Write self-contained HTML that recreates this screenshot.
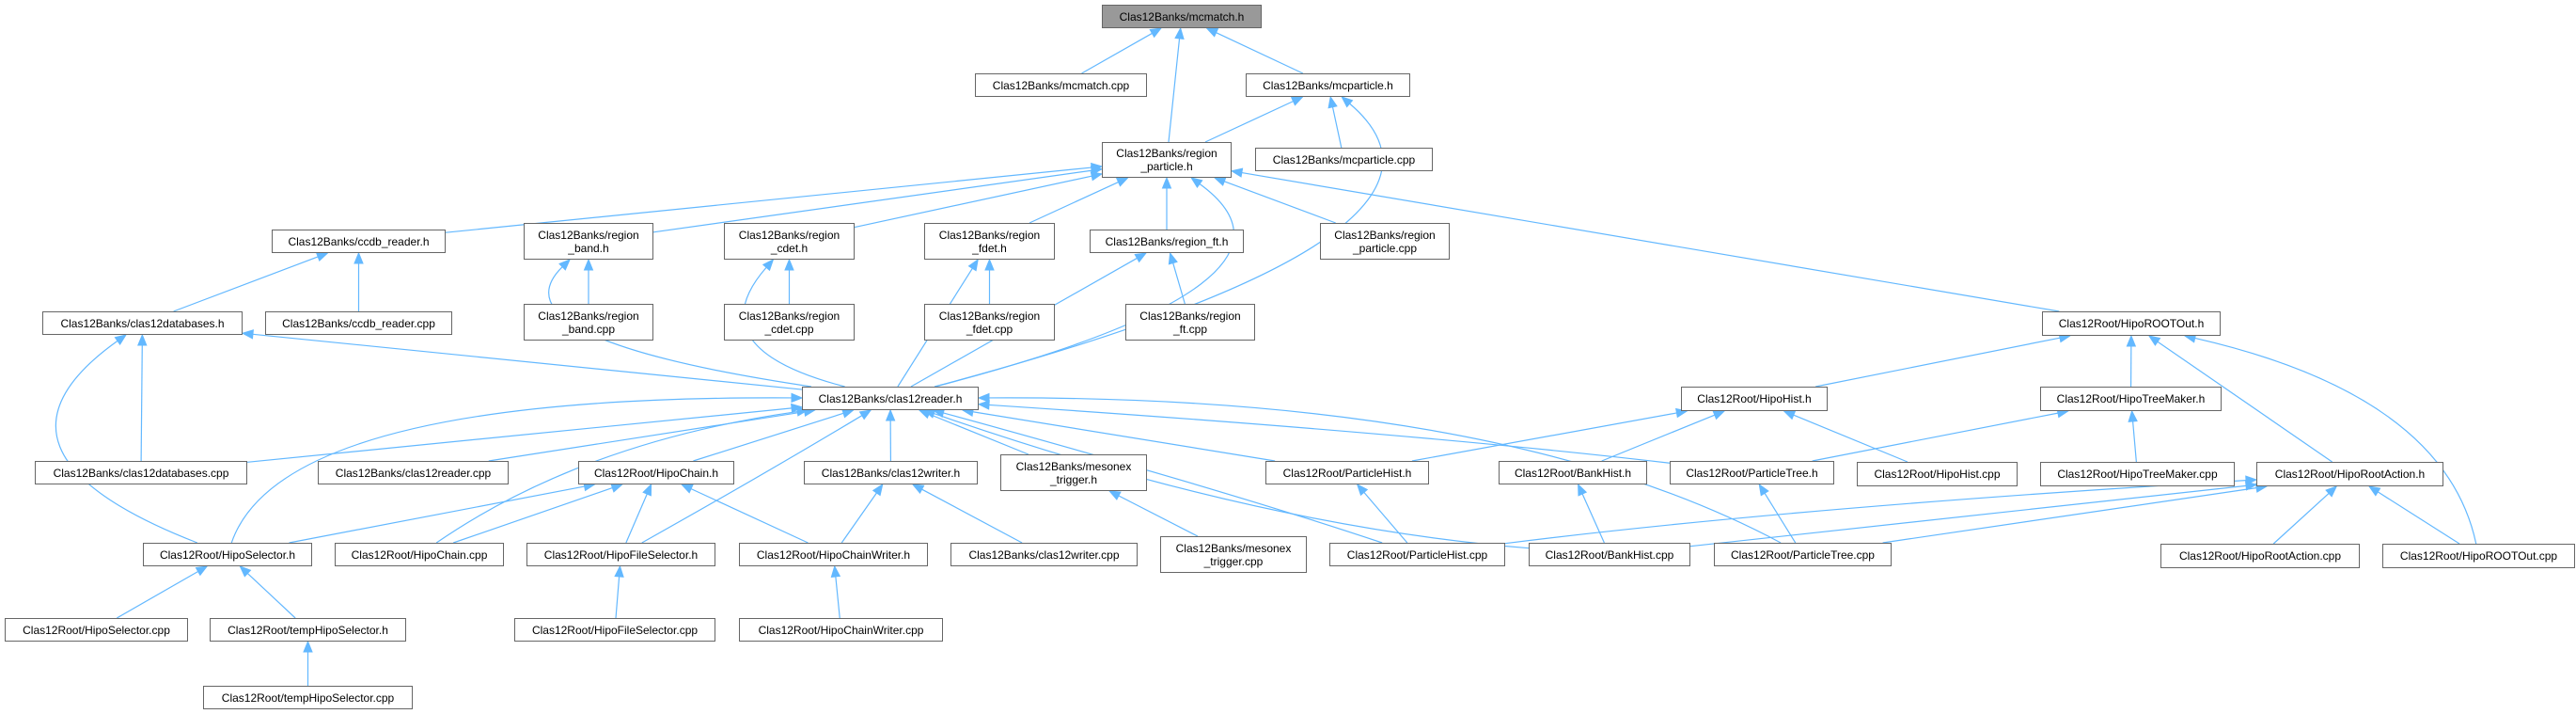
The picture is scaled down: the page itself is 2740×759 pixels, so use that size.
<!DOCTYPE html>
<html><head><meta charset="utf-8">
<style>
html,body{margin:0;padding:0;background:#fff;}
#c{position:relative;width:2740px;height:759px;overflow:hidden;}
.n{position:absolute;box-sizing:border-box;border:1.5px solid #666;background:#fff;font-family:"Liberation Sans",Arial,sans-serif;font-size:12px;color:#000;display:flex;align-items:center;justify-content:center;text-align:center;line-height:14px;white-space:nowrap;}
svg{position:absolute;left:0;top:0;}
</style></head><body><div id="c">
<svg id="s" width="2740" height="759"></svg>
<div class="n" id="mcmatch_h" style="left:1172px;top:5px;width:170px;height:25px;background:#999">Clas12Banks/mcmatch.h</div>
<div class="n" id="mcmatch_cpp" style="left:1037px;top:78px;width:183px;height:25px">Clas12Banks/mcmatch.cpp</div>
<div class="n" id="mcparticle_h" style="left:1325px;top:78px;width:175px;height:25px">Clas12Banks/mcparticle.h</div>
<div class="n" id="rp_h" style="left:1172px;top:151px;width:138px;height:38px">Clas12Banks/region<br>_particle.h</div>
<div class="n" id="mcparticle_cpp" style="left:1335px;top:157px;width:189px;height:25px">Clas12Banks/mcparticle.cpp</div>
<div class="n" id="ccdb_h" style="left:289px;top:244px;width:185px;height:25px">Clas12Banks/ccdb_reader.h</div>
<div class="n" id="band_h" style="left:557px;top:237px;width:138px;height:39px">Clas12Banks/region<br>_band.h</div>
<div class="n" id="cdet_h" style="left:770px;top:237px;width:139px;height:39px">Clas12Banks/region<br>_cdet.h</div>
<div class="n" id="fdet_h" style="left:983px;top:237px;width:139px;height:39px">Clas12Banks/region<br>_fdet.h</div>
<div class="n" id="ft_h" style="left:1159px;top:244px;width:164px;height:25px">Clas12Banks/region_ft.h</div>
<div class="n" id="rp_cpp" style="left:1404px;top:237px;width:138px;height:39px">Clas12Banks/region<br>_particle.cpp</div>
<div class="n" id="db_h" style="left:45px;top:331px;width:213px;height:25px">Clas12Banks/clas12databases.h</div>
<div class="n" id="ccdb_cpp" style="left:282px;top:331px;width:199px;height:25px">Clas12Banks/ccdb_reader.cpp</div>
<div class="n" id="band_cpp" style="left:557px;top:323px;width:138px;height:39px">Clas12Banks/region<br>_band.cpp</div>
<div class="n" id="cdet_cpp" style="left:770px;top:323px;width:139px;height:39px">Clas12Banks/region<br>_cdet.cpp</div>
<div class="n" id="fdet_cpp" style="left:983px;top:323px;width:139px;height:39px">Clas12Banks/region<br>_fdet.cpp</div>
<div class="n" id="ft_cpp" style="left:1197px;top:323px;width:138px;height:39px">Clas12Banks/region<br>_ft.cpp</div>
<div class="n" id="rootout_h" style="left:2172px;top:331px;width:190px;height:26px">Clas12Root/HipoROOTOut.h</div>
<div class="n" id="reader_h" style="left:853px;top:411px;width:188px;height:25px">Clas12Banks/clas12reader.h</div>
<div class="n" id="hist_h" style="left:1788px;top:411px;width:156px;height:26px">Clas12Root/HipoHist.h</div>
<div class="n" id="treemaker_h" style="left:2170px;top:411px;width:193px;height:26px">Clas12Root/HipoTreeMaker.h</div>
<div class="n" id="db_cpp" style="left:37px;top:490px;width:226px;height:25px">Clas12Banks/clas12databases.cpp</div>
<div class="n" id="reader_cpp" style="left:338px;top:490px;width:203px;height:25px">Clas12Banks/clas12reader.cpp</div>
<div class="n" id="chain_h" style="left:615px;top:490px;width:166px;height:25px">Clas12Root/HipoChain.h</div>
<div class="n" id="writer_h" style="left:855px;top:490px;width:185px;height:25px">Clas12Banks/clas12writer.h</div>
<div class="n" id="meson_h" style="left:1064px;top:483px;width:156px;height:39px">Clas12Banks/mesonex<br>_trigger.h</div>
<div class="n" id="phist_h" style="left:1346px;top:490px;width:174px;height:25px">Clas12Root/ParticleHist.h</div>
<div class="n" id="bhist_h" style="left:1594px;top:490px;width:158px;height:25px">Clas12Root/BankHist.h</div>
<div class="n" id="ptree_h" style="left:1776px;top:490px;width:175px;height:25px">Clas12Root/ParticleTree.h</div>
<div class="n" id="hist_cpp" style="left:1975px;top:491px;width:171px;height:26px">Clas12Root/HipoHist.cpp</div>
<div class="n" id="treemaker_cpp" style="left:2170px;top:491px;width:207px;height:26px">Clas12Root/HipoTreeMaker.cpp</div>
<div class="n" id="action_h" style="left:2400px;top:491px;width:199px;height:26px">Clas12Root/HipoRootAction.h</div>
<div class="n" id="sel_h" style="left:152px;top:577px;width:180px;height:25px">Clas12Root/HipoSelector.h</div>
<div class="n" id="chain_cpp" style="left:356px;top:577px;width:180px;height:25px">Clas12Root/HipoChain.cpp</div>
<div class="n" id="fsel_h" style="left:560px;top:577px;width:201px;height:25px">Clas12Root/HipoFileSelector.h</div>
<div class="n" id="cw_h" style="left:786px;top:577px;width:201px;height:25px">Clas12Root/HipoChainWriter.h</div>
<div class="n" id="writer_cpp" style="left:1011px;top:577px;width:199px;height:25px">Clas12Banks/clas12writer.cpp</div>
<div class="n" id="meson_cpp" style="left:1234px;top:570px;width:156px;height:39px">Clas12Banks/mesonex<br>_trigger.cpp</div>
<div class="n" id="phist_cpp" style="left:1414px;top:577px;width:187px;height:25px">Clas12Root/ParticleHist.cpp</div>
<div class="n" id="bhist_cpp" style="left:1626px;top:577px;width:172px;height:25px">Clas12Root/BankHist.cpp</div>
<div class="n" id="ptree_cpp" style="left:1823px;top:577px;width:189px;height:25px">Clas12Root/ParticleTree.cpp</div>
<div class="n" id="action_cpp" style="left:2298px;top:578px;width:212px;height:26px">Clas12Root/HipoRootAction.cpp</div>
<div class="n" id="rootout_cpp" style="left:2534px;top:578px;width:205px;height:26px">Clas12Root/HipoROOTOut.cpp</div>
<div class="n" id="sel_cpp" style="left:5px;top:657px;width:195px;height:25px">Clas12Root/HipoSelector.cpp</div>
<div class="n" id="tsel_h" style="left:223px;top:657px;width:209px;height:25px">Clas12Root/tempHipoSelector.h</div>
<div class="n" id="fsel_cpp" style="left:547px;top:657px;width:214px;height:25px">Clas12Root/HipoFileSelector.cpp</div>
<div class="n" id="cw_cpp" style="left:786px;top:657px;width:217px;height:25px">Clas12Root/HipoChainWriter.cpp</div>
<div class="n" id="tsel_cpp" style="left:216px;top:729px;width:223px;height:25px">Clas12Root/tempHipoSelector.cpp</div>
</div>
<script>
var E=[
["mcmatch_cpp","mcmatch_h"],["rp_h","mcmatch_h"],["mcparticle_h","mcmatch_h"],
["rp_h","mcparticle_h"],["mcparticle_cpp","mcparticle_h"],["reader_h","mcparticle_h",[1600,250]],
["ccdb_h","rp_h"],["band_h","rp_h"],["cdet_h","rp_h"],["fdet_h","rp_h"],["ft_h","rp_h"],["rp_cpp","rp_h"],["rootout_h","rp_h"],["reader_h","rp_h",[1420,300]],
["db_h","ccdb_h"],["ccdb_cpp","ccdb_h"],
["band_cpp","band_h"],["reader_h","band_h",[520,360]],
["cdet_cpp","cdet_h"],["reader_h","cdet_h",[740,370]],
["fdet_cpp","fdet_h"],["reader_h","fdet_h"],
["ft_cpp","ft_h"],["reader_h","ft_h"],
["db_cpp","db_h"],["sel_h","db_h",[-40,480]],["reader_h","db_h"],
["db_cpp","reader_h"],["reader_cpp","reader_h"],["chain_h","reader_h"],["writer_h","reader_h"],["meson_h","reader_h"],
["sel_h","reader_h",[300,420]],["chain_cpp","reader_h",[620,470]],["fsel_h","reader_h",[820,500]],
["phist_h","reader_h"],["ptree_h","reader_h",[1500,460]],["phist_cpp","reader_h",[1300,520]],["bhist_cpp","reader_h",[1340,560]],["ptree_cpp","reader_h",[1600,420]],
["sel_h","chain_h"],["chain_cpp","chain_h"],["fsel_h","chain_h"],["cw_h","chain_h"],
["cw_h","writer_h"],["writer_cpp","writer_h"],
["meson_cpp","meson_h"],
["sel_cpp","sel_h"],["tsel_h","sel_h"],["tsel_cpp","tsel_h"],
["fsel_cpp","fsel_h"],["cw_cpp","cw_h"],
["hist_h","rootout_h"],["treemaker_h","rootout_h"],["action_h","rootout_h"],["rootout_cpp","rootout_h",[2600,420]],
["phist_h","hist_h"],["bhist_h","hist_h"],["hist_cpp","hist_h"],
["ptree_h","treemaker_h"],["treemaker_cpp","treemaker_h"],
["phist_cpp","action_h",[1900,540]],["bhist_cpp","action_h",[2000,560]],["ptree_cpp","action_h"],["action_cpp","action_h"],["rootout_cpp","action_h"],
["phist_cpp","phist_h"],["bhist_cpp","bhist_h"],["ptree_cpp","ptree_h"]
];
function box(id){var e=document.getElementById(id);return {x:e.offsetLeft,y:e.offsetTop,w:e.offsetWidth,h:e.offsetHeight};}
function clip(b,px,py){ // intersect ray from center toward (px,py) with box
 var cx=b.x+b.w/2,cy=b.y+b.h/2,dx=px-cx,dy=py-cy;
 var tx=dx?(b.w/2)/Math.abs(dx):1e9,ty=dy?(b.h/2)/Math.abs(dy):1e9,t=Math.min(tx,ty);
 return [cx+dx*t,cy+dy*t];}
var s=document.getElementById("s"),out="";
E.forEach(function(e){
 var c=box(e[0]),p=box(e[1]);
 var cc=[c.x+c.w/2,c.y+c.h/2],pc=[p.x+p.w/2,p.y+p.h/2];
 var ctrl=e[2];
 var a=clip(c,ctrl?ctrl[0]:pc[0],ctrl?ctrl[1]:pc[1]);
 var b=clip(p,ctrl?ctrl[0]:cc[0],ctrl?ctrl[1]:cc[1]);
 var fx=ctrl?ctrl[0]:a[0],fy=ctrl?ctrl[1]:a[1];
 var dx=b[0]-fx,dy=b[1]-fy,L=Math.sqrt(dx*dx+dy*dy);dx/=L;dy/=L;
 var L2=11,W=4.5;
 var bx=b[0]-dx*L2,by=b[1]-dy*L2;
 if(ctrl) out+='<path d="M'+a[0]+','+a[1]+' Q'+ctrl[0]+','+ctrl[1]+' '+bx+','+by+'" fill="none" stroke="#63b8ff" stroke-width="1.2"/>';
 else out+='<line x1="'+a[0]+'" y1="'+a[1]+'" x2="'+bx+'" y2="'+by+'" stroke="#63b8ff" stroke-width="1.2"/>';
 out+='<polygon points="'+b[0]+','+b[1]+' '+(bx-dy*W)+','+(by+dx*W)+' '+(bx+dy*W)+','+(by-dx*W)+'" fill="#63b8ff" stroke="#63b8ff"/>';
});
s.innerHTML=out;
</script>
</body></html>
